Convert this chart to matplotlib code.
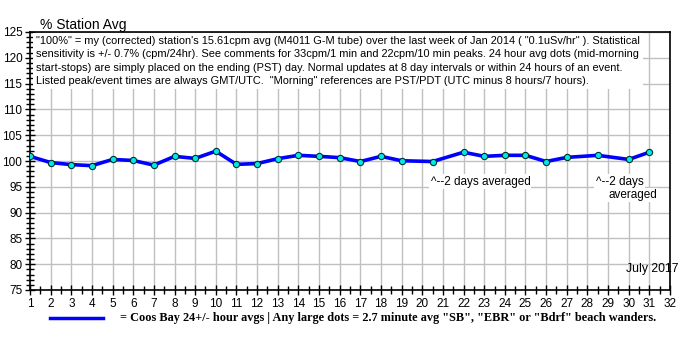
import matplotlib
matplotlib.use("Agg")
import matplotlib.pyplot as plt
from matplotlib.ticker import MultipleLocator

# daily averages, % of station average (July 2017)
days = [1, 2, 3, 4, 5, 6, 7, 8, 9, 10, 11, 12, 13, 14, 15, 16,
        17, 18, 19, 20.5, 22, 23, 24, 25, 26, 27, 28.5, 30, 31]
pct = [100.9, 99.7, 99.3, 99.1, 100.3, 100.1, 99.2, 100.9, 100.5, 101.9,
       99.35, 99.5, 100.45, 101.1, 100.9, 100.65,
       99.9, 100.9, 100.05, 99.9, 101.7, 100.9, 101.1, 101.1, 99.9, 100.7,
       101.1, 100.3, 101.7]

notes = ('"100%" = my (corrected) station\'s 15.61cpm avg (M4011 G-M tube) over the last week of Jan 2014 ( "0.1uSv/hr" ). Statistical\n'
         'sensitivity is +/- 0.7% (cpm/24hr). See comments for 33cpm/1 min and 22cpm/10 min peaks. 24 hour avg dots (mid-morning\n'
         'start-stops) are simply placed on the ending (PST) day. Normal updates at 8 day intervals or within 24 hours of an event.\n'
         'Listed peak/event times are always GMT/UTC.  "Morning" references are PST/PDT (UTC minus 8 hours/7 hours).')

plt.rcParams['font.family'] = ['Liberation Sans', 'DejaVu Sans']

fig = plt.figure(figsize=(7, 3.5), dpi=100)
ax = fig.add_axes([30/700, 1-290/350, 640/700, 258/350])

ax.plot(days, pct, color='#0000ff', lw=2.6, zorder=3)
ax.plot(days, pct, 'o', ms=4.5, mfc='#00e8e8', mec='#003030', mew=0.8, zorder=4)

ax.set_xlim(1, 32)
ax.set_ylim(75, 125)
ax.xaxis.set_major_locator(MultipleLocator(1))
ax.xaxis.set_minor_locator(MultipleLocator(0.5))
ax.yaxis.set_major_locator(MultipleLocator(5))
ax.yaxis.set_minor_locator(MultipleLocator(1))
ax.tick_params(which='both', direction='inout', color='black', labelsize=8.5, pad=2)
ax.tick_params(which='major', length=7, width=1)
ax.tick_params(which='minor', length=6, width=1)
ax.grid(True, which='major', color='#c0c0c0', lw=1)
ax.set_axisbelow(True)
for s in ax.spines.values():
    s.set_color('black')
    s.set_linewidth(1.2)

fig.text(40/700, 1-29/350, '% Station Avg', fontsize=10, ha='left', va='baseline')

ax.text(1.3, 124.2, notes, fontsize=7.9, ha='left', va='top', linespacing=1.4,
        bbox=dict(boxstyle='square,pad=0.3', fc='white', ec='none'), zorder=2)

ax.text(20.4, 96.0, '^--2 days averaged', fontsize=8.5, ha='left', va='center',
        bbox=dict(boxstyle='square,pad=0.1', fc='white', ec='none'), zorder=2)
ax.text(28.4, 96.0, '^--2 days', fontsize=8.5, ha='left', va='center',
        bbox=dict(boxstyle='square,pad=0.1', fc='white', ec='none'), zorder=2)
ax.text(29.0, 93.4, 'averaged', fontsize=8.5, ha='left', va='center',
        bbox=dict(boxstyle='square,pad=0.1', fc='white', ec='none'), zorder=2)

ax.text(29.85, 78.4, 'July 2017', fontsize=8.8, ha='left', va='baseline', zorder=5)

fig.add_artist(plt.Line2D([50/700, 103/700], [1-318/350, 1-318/350], color='#0000ff', lw=2.5))
fig.text(120/700, 1-318/350,
         '= Coos Bay 24+/- hour avgs | Any large dots = 2.7 minute avg "SB", "EBR" or "Bdrf" beach wanders.',
         fontsize=8.8, fontweight='bold', family='Liberation Serif', ha='left', va='center')

fig.savefig('out.png', dpi=100, facecolor='white')
